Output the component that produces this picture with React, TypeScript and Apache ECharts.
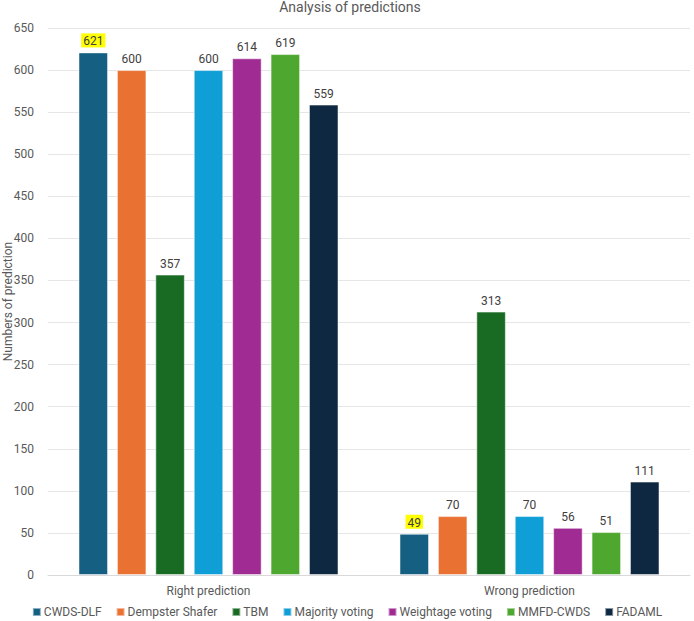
import React, { useEffect, useRef } from "react";
import * as echarts from "echarts";

const categories = ["Right prediction", "Wrong prediction"];
const seriesNames = ["CWDS-DLF", "Dempster Shafer", "TBM", "Majority voting", "Weightage voting", "MMFD-CWDS", "FADAML"];
const cwdsDlf = [621, 49];
const dempsterShafer = [600, 70];
const tbm = [357, 313];
const majorityVoting = [600, 70];
const weightageVoting = [614, 56];
const mmfdCwds = [619, 51];
const fadaml = [559, 111];
const seriesValues = [cwdsDlf, dempsterShafer, tbm, majorityVoting, weightageVoting, mmfdCwds, fadaml];
const colors = ["#156082", "#E97132", "#196B24", "#0F9ED5", "#A02B93", "#4EA72E", "#0E2841"];

const FONT = "Roboto, 'Noto Sans', sans-serif";

export default function App() {
  const ref = useRef<HTMLDivElement>(null);
  useEffect(() => {
    if (!ref.current) return;
    const chart = echarts.init(ref.current, null, { renderer: "svg" });
    chart.setOption({
      animation: false,
      color: colors,
      textStyle: { fontFamily: FONT },
      title: {
        text: "Analysis of predictions",
        left: 345,
        textAlign: "center",
        top: -5,
        textStyle: { fontSize: 14, fontWeight: "normal", color: "#595959", fontFamily: FONT },
      },
      grid: { left: 48, right: 4, top: 28, bottom: 46, containLabel: false, outerBoundsMode: "none" },
      legend: {
        bottom: -2,
        left: "center",
        itemWidth: 8,
        itemHeight: 8,
        itemGap: 14,
        icon: "rect",
        textStyle: { fontSize: 12, color: "#595959", fontFamily: FONT, padding: [0, 0, 0, -2] },
        data: seriesNames,
      },
      xAxis: {
        type: "category",
        data: categories,
        axisLine: { lineStyle: { color: "#D9D9D9" } },
        axisTick: { show: false },
        axisLabel: { color: "#595959", fontSize: 12, margin: 10, fontFamily: FONT },
      },
      yAxis: {
        type: "value",
        min: 0,
        max: 650,
        interval: 50,
        name: "Numbers of prediction",
        nameLocation: "middle",
        nameGap: 34,
        nameMoveOverlap: false,
        nameTextStyle: { color: "#595959", fontSize: 12, fontFamily: FONT },
        axisLabel: { color: "#595959", fontSize: 12, margin: 14, fontFamily: FONT },
        splitLine: { lineStyle: { color: "#E6E6E6" } },
        axisLine: { show: false },
        axisTick: { show: false },
      },
      series: seriesNames.map((name, i) => ({
        name,
        type: "bar",
        data: seriesValues[i],
        barGap: "30%",
        barCategoryGap: "19%",
        itemStyle: { color: colors[i], borderColor: "rgba(255,255,255,0.5)", borderWidth: 1 },
        label: {
          show: true,
          position: "top",
          distance: 5,
          color: "#404040",
          fontSize: 12,
          fontFamily: FONT,
          ...(i === 0 ? { backgroundColor: "#FFFF00", padding: [2, 2, 0, 2] } : {}),
        },
      })),
    });
    return () => chart.dispose();
  }, []);
  return <div ref={ref} style={{ width: 694, height: 621, position: "absolute", left: 0, top: 0 }} />;
}
